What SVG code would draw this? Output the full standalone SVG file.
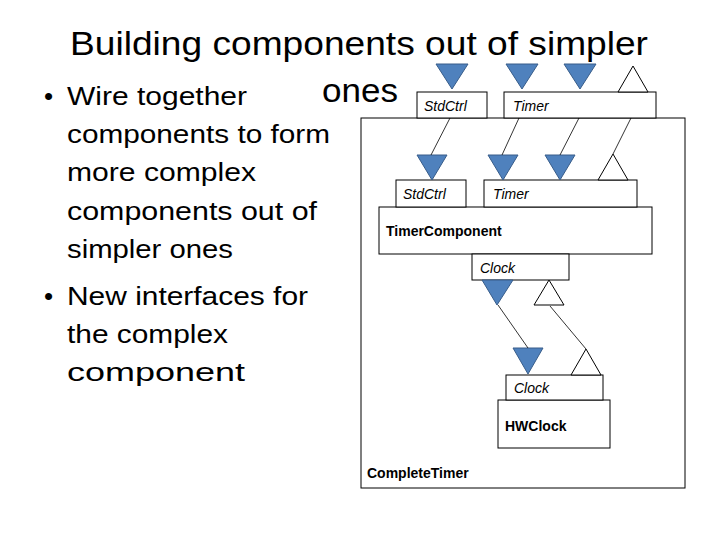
<svg xmlns="http://www.w3.org/2000/svg" width="720" height="540" viewBox="0 0 720 540">
<style>
.t{font-family:"Liberation Sans",Arial,sans-serif;fill:#000}
.b{font-size:26px}
.box{fill:#fff;stroke:#000;stroke-width:1}
.f{fill:#4f81bd;stroke:#385d8a;stroke-width:1}
.o{fill:#fff;stroke:#000;stroke-width:1}
.l{stroke:#000;stroke-width:0.8;fill:none}
.i{font-family:"Liberation Sans",Arial,sans-serif;font-style:italic;font-size:14px}
.n{font-family:"Liberation Sans",Arial,sans-serif;font-weight:bold;font-size:14px}
</style>
<rect width="720" height="540" fill="#fff"/>
<g id="title">
<text class="t" x="70" y="55" font-size="33" textLength="578" lengthAdjust="spacingAndGlyphs">Building components out of simpler</text>
<text class="t" x="322" y="102" font-size="33" textLength="76" lengthAdjust="spacingAndGlyphs">ones</text>
</g>
<g id="bullets" class="t b">
<text x="44" y="105">•</text>
<text x="67" y="105" textLength="180" lengthAdjust="spacingAndGlyphs">Wire together</text>
<text x="67" y="143" textLength="263" lengthAdjust="spacingAndGlyphs">components to form</text>
<text x="67" y="181" textLength="189" lengthAdjust="spacingAndGlyphs">more complex</text>
<text x="67" y="220" textLength="250" lengthAdjust="spacingAndGlyphs">components out of</text>
<text x="67" y="258" textLength="166" lengthAdjust="spacingAndGlyphs">simpler ones</text>
<text x="44" y="305">•</text>
<text x="67" y="305" textLength="241" lengthAdjust="spacingAndGlyphs">New interfaces for</text>
<text x="67" y="343" textLength="161" lengthAdjust="spacingAndGlyphs">the complex</text>
<text x="67" y="381" textLength="178" lengthAdjust="spacingAndGlyphs">component</text>
</g>
<g id="CompleteTimer">
<rect class="box" x="361" y="118" width="324" height="370"/>
<text class="n" x="367" y="478" font-weight="normal" font-size="15">CompleteTimer</text>
<rect class="box" x="417" y="92" width="70" height="26"/>
<text class="i" x="424" y="111">StdCtrl</text>
<rect class="box" x="504" y="92" width="152" height="26"/>
<text class="i" x="513" y="111">Timer</text>
<polygon class="f" points="436,64 468,64 452,89"/>
<polygon class="f" points="506,64 538,64 522,89"/>
<polygon class="f" points="564,64 596,64 580,89"/>
<polygon class="o" points="633,66 618,92 648,92"/>
</g>
<g id="TimerComponent">
<rect class="box" x="379" y="207" width="273" height="47"/>
<text class="n" x="386" y="236">TimerComponent</text>
<rect class="box" x="396" y="180" width="70" height="27"/>
<text class="i" x="403" y="199">StdCtrl</text>
<rect class="box" x="484" y="180" width="153" height="27"/>
<text class="i" x="493" y="199">Timer</text>
<rect class="box" x="472" y="254" width="97" height="26"/>
<text class="i" x="480" y="273">Clock</text>
<polygon class="f" points="417,155 447,155 432,180"/>
<polygon class="f" points="488,155 518,155 503,180"/>
<polygon class="f" points="545,155 575,155 560,180"/>
<polygon class="o" points="613,154 598,180 628,180"/>
<polygon class="f" points="482,280 513,280 497,305"/>
<polygon class="o" points="549,280 534,305 564,305"/>
</g>
<g id="HWClock">
<rect class="box" x="498" y="400" width="112" height="48"/>
<text class="n" x="505" y="431">HWClock</text>
<rect class="box" x="506" y="375" width="97" height="25"/>
<text class="i" x="514" y="393">Clock</text>
<polygon class="f" points="513,348 543,348 528,374"/>
<polygon class="o" points="586,349 571,375 601,375"/>
</g>
<g id="connectors" class="l">
<line x1="450" y1="118" x2="431" y2="155"/>
<line x1="519" y1="118" x2="502" y2="155"/>
<line x1="579" y1="118" x2="560" y2="155"/>
<line x1="631" y1="118" x2="613" y2="154"/>
<line x1="498" y1="305" x2="528" y2="348"/>
<line x1="550" y1="306" x2="586" y2="349"/>
</g>
</svg>
